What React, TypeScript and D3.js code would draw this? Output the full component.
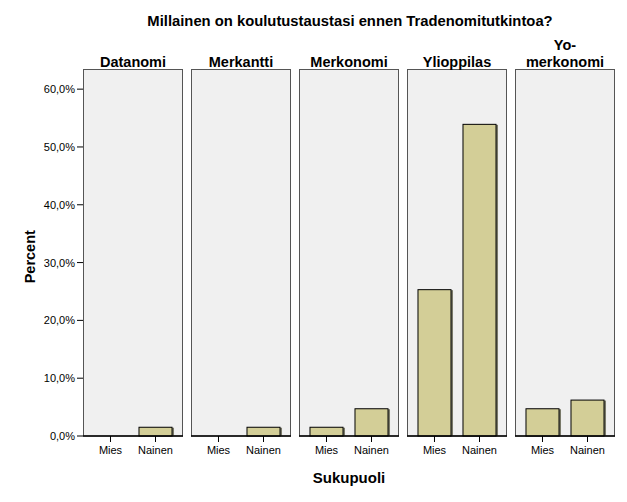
import React from "react";
import * as d3 from "d3";

const panels = ["Datanomi", "Merkantti", "Merkonomi", "Ylioppilas", "Yo-merkonomi"];
const panelTitles: string[][] = [["Datanomi"], ["Merkantti"], ["Merkonomi"], ["Ylioppilas"], ["Yo-", "merkonomi"]];
const genders = ["Mies", "Nainen"];
const miesValues = [0, 0, 1.6, 25.4, 4.8];
const nainenValues = [1.6, 1.6, 4.8, 54.0, 6.3];
const yTicks = [0, 10, 20, 30, 40, 50, 60];

const W = 627, H = 502;
const FONT = "'Liberation Sans', Arial, sans-serif";

export default function App() {
  const plotLeft = 83, plotRight = 615;
  const top = 69.5, bottom = 436;
  const gap = 8;
  const panelScale = d3.scaleBand<string>().domain(panels).range([plotLeft, plotRight + gap]).paddingInner(0).paddingOuter(0);
  const pw = panelScale.step() - gap;
  const y = d3.scaleLinear().domain([0, 63.4]).range([bottom, top]);
  const x = d3.scaleBand<string>().domain(genders).range([0, pw]).paddingInner(0.244).paddingOuter(0.233);
  const fmt = (v: number) => v.toFixed(1).replace(".", ",") + "%";

  return (
    <svg width={W} height={H} style={{ position: "absolute", left: 0, top: 0, background: "#fff" }} fontFamily={FONT}>
      <rect x={0} y={0} width={W} height={H} fill="#fff" />
      <text x={350} y={26} textAnchor="middle" fontSize={14.8} fontWeight="bold" fill="#000">
        Millainen on koulutustaustasi ennen Tradenomitutkintoa?
      </text>
      {/* y axis */}
      {yTicks.map((t) => (
        <g key={t}>
          <line x1={plotLeft - 6} x2={plotLeft} y1={y(t)} y2={y(t)} stroke="#000" />
          <text x={plotLeft - 8} y={y(t) + 4} textAnchor="end" fontSize={11} fill="#000">{fmt(t)}</text>
        </g>
      ))}
      <text transform={`translate(35,${(top + bottom) / 2 + 4}) rotate(-90)`} textAnchor="middle" fontSize={14.5} fontWeight="bold" fill="#000">Percent</text>
      {panels.map((p, i) => {
        const px = panelScale(p)!;
        const vals = [miesValues[i], nainenValues[i]];
        const lines = panelTitles[i];
        return (
          <g key={p} transform={`translate(${px},0)`}>
            <rect x={0.5} y={top} width={pw - 1} height={bottom - top} fill="#f0f0f0" stroke="#555" strokeWidth={1} />
            {lines.map((l, k) => (
              <text key={k} x={pw / 2} y={67 - (lines.length - 1 - k) * 17} textAnchor="middle" fontSize={14.5} fontWeight="bold" fill="#000">{l}</text>
            ))}
            {genders.map((g, k) => {
              const v = vals[k];
              const bx = x(g)!;
              const bw = x.bandwidth();
              return (
                <g key={g}>
                  {v > 0 && (
                    <>
                      <rect x={bx + 1.5} y={y(v) + 1} width={bw} height={bottom - y(v) - 1} fill="#7a7a6a" />
                      <rect x={bx + 0.5} y={y(v) + 0.5} width={bw - 1} height={bottom - y(v) - 0.5} fill="#d3ce97" stroke="#000" strokeWidth={1} />
                    </>
                  )}
                  <line x1={bx + bw / 2} x2={bx + bw / 2} y1={bottom} y2={bottom + 6} stroke="#000" />
                  <text x={bx + bw / 2} y={bottom + 18} textAnchor="middle" fontSize={11} fill="#000">{g}</text>
                </g>
              );
            })}
            <line x1={0} x2={pw} y1={bottom} y2={bottom} stroke="#000" strokeWidth={1.5} />
          </g>
        );
      })}
      <text x={349} y={483} textAnchor="middle" fontSize={15} fontWeight="bold" fill="#000">Sukupuoli</text>
    </svg>
  );
}
